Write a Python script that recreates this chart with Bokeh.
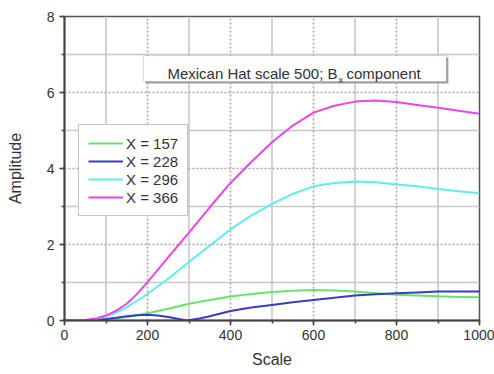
from bokeh.plotting import figure
from bokeh.models import Range1d, SingleIntervalTicker, BoxAnnotation, Label
from bokeh.embed import file_html
from bokeh.resources import INLINE

# ---- data ----
scale = [0, 25, 50, 75, 100, 125, 150, 175, 200, 250, 300, 350, 400, 450,
         500, 550, 600, 650, 700, 750, 800, 850, 900, 950, 1000]
amp_157 = [0, 0.0, 0.005, 0.015, 0.03, 0.06, 0.09, 0.14, 0.19, 0.31, 0.44,
           0.54, 0.63, 0.70, 0.75, 0.78, 0.80, 0.79, 0.76, 0.72, 0.68, 0.66,
           0.64, 0.62, 0.61]
scale_228 = [0, 25, 50, 75, 100, 125, 150, 175, 200, 225, 250, 275, 295,
             325, 350, 400, 450, 500, 550, 600, 650, 700, 750, 800, 850, 900,
             950, 1000]
amp_228 = [0, 0.0, 0.01, 0.02, 0.04, 0.07, 0.11, 0.14, 0.15, 0.13, 0.09,
           0.04, 0.0, 0.05, 0.11, 0.25, 0.34, 0.41, 0.48, 0.54, 0.60, 0.66,
           0.69, 0.72, 0.74, 0.76, 0.76, 0.76]
amp_296 = [0, 0.003, 0.01, 0.04, 0.11, 0.21, 0.35, 0.52, 0.70, 1.10, 1.54,
           1.97, 2.40, 2.76, 3.07, 3.33, 3.53, 3.62, 3.66, 3.64, 3.58, 3.53,
           3.46, 3.40, 3.35]
amp_366 = [0, 0.003, 0.015, 0.05, 0.13, 0.26, 0.44, 0.70, 1.01, 1.67, 2.31,
           2.98, 3.62, 4.17, 4.69, 5.13, 5.47, 5.65, 5.76, 5.79, 5.75, 5.67,
           5.60, 5.52, 5.44]
labels = ["X = 157", "X = 228", "X = 296", "X = 366"]
colors = ["#66e666", "#3a3acc", "#5eeeee", "#e846e8"]
x_major_grid = [200, 400, 600, 800]
x_minor_grid = [100, 300, 500, 700, 900]
y_major_grid = [2, 4, 6]
y_minor_grid = [1, 3, 5, 7]
title_main = "Mexican Hat scale 500; B"
title_sub = "x"
title_tail = "component"

FONT = "Liberation Sans"
XMIN, XMAX, YMIN, YMAX = 0, 1000, 0, 8

p = figure(width=494, height=374, output_backend="svg", toolbar_location=None,
           x_range=Range1d(XMIN, XMAX), y_range=Range1d(YMIN, YMAX),
           min_border_left=64, min_border_right=15, min_border_top=16,
           min_border_bottom=54)
p.background_fill_color = "white"
p.border_fill_color = "white"
p.outline_line_color = "#555555"
p.outline_line_width = 1.5

p.xaxis.ticker = SingleIntervalTicker(interval=200, num_minor_ticks=2)
p.yaxis.ticker = SingleIntervalTicker(interval=2, num_minor_ticks=2)
p.xgrid.grid_line_color = None
p.ygrid.grid_line_color = None

for ax in (p.xaxis[0], p.yaxis[0]):
    ax.axis_line_color = "#444444"
    ax.axis_line_width = 2
    ax.major_tick_line_color = "#444444"
    ax.major_tick_line_width = 1.5
    ax.minor_tick_line_color = "#444444"
    ax.minor_tick_line_width = 1.5
    ax.major_tick_out = 5
    ax.major_tick_in = 0
    ax.minor_tick_out = 3
    ax.minor_tick_in = 0
    ax.major_label_text_font = FONT
    ax.major_label_text_font_size = "14px"
    ax.major_label_text_color = "#333333"
    ax.axis_label_text_font = FONT
    ax.axis_label_text_font_size = "16px"
    ax.axis_label_text_font_style = "normal"
    ax.axis_label_text_color = "#333333"

p.xaxis.axis_label = "Scale"
p.yaxis.axis_label = "Amplitude"
p.xaxis.major_label_standoff = 4
p.yaxis.major_label_standoff = 5
p.xaxis.axis_label_standoff = 8
p.yaxis.axis_label_standoff = 20

# grid as multi_line glyphs: minor solid, major dotted (slightly wider so
# they survive as the soft grey lines seen in the reference)
minor_xs = [[v, v] for v in x_minor_grid] + [[XMIN, XMAX] for _ in y_minor_grid]
minor_ys = [[YMIN, YMAX] for _ in x_minor_grid] + [[v, v] for v in y_minor_grid]
major_xs = [[v, v] for v in x_major_grid] + [[XMIN, XMAX] for _ in y_major_grid]
major_ys = [[YMIN, YMAX] for _ in x_major_grid] + [[v, v] for v in y_major_grid]
p.multi_line(xs=minor_xs, ys=minor_ys, line_color="#c8c8c8", line_width=1.6)
p.multi_line(xs=major_xs, ys=major_ys, line_color="#a8a8a8", line_width=1.6,
             line_dash="2 2")

xs = [scale, scale_228, scale, scale]
ys = [amp_157, amp_228, amp_296, amp_366]
for x, y, c, lab in zip(xs, ys, colors, labels):
    p.line(x, y, line_color=c, line_width=2, legend_label=lab,
           line_join="round")

# title box with shadow
p.add_layout(BoxAnnotation(left=195, right=925, bottom=6.24, top=6.92,
                           fill_color="#a0a0a0", fill_alpha=1.0,
                           line_color=None, level="annotation"))
p.add_layout(BoxAnnotation(left=190, right=920, bottom=6.29, top=6.97,
                           fill_color="white", fill_alpha=1.0,
                           line_color="#888888", line_width=1,
                           level="annotation"))
p.add_layout(Label(x=657.8, y=6.50, text=title_main, text_align="right",
                   text_baseline="alphabetic", text_font=FONT,
                   text_font_size="15px", text_color="#333333"))
p.add_layout(Label(x=660, y=6.33, text=title_sub, text_align="left",
                   text_baseline="alphabetic", text_font=FONT,
                   text_font_size="9px", text_color="#333333"))
p.add_layout(Label(x=679.5, y=6.50, text=title_tail, text_align="left",
                   text_baseline="alphabetic", text_font=FONT,
                   text_font_size="15px", text_color="#333333"))

lg = p.legend[0]
lg.location = (14, 104)
lg.label_text_font = FONT
lg.label_text_font_size = "15px"
lg.label_text_color = "#333333"
lg.label_height = 18
lg.glyph_height = 18
lg.glyph_width = 35
lg.label_standoff = 3
lg.spacing = 0
lg.padding = 9
lg.margin = 0
lg.border_line_color = "#888888"
lg.border_line_width = 1
lg.background_fill_color = "white"
lg.background_fill_alpha = 1.0

open("out.html", "w").write(file_html(p, INLINE))
